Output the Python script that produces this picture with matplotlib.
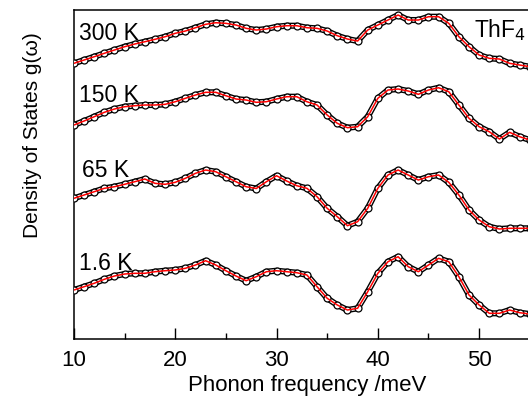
import matplotlib
matplotlib.use('Agg')
import matplotlib.pyplot as plt
from matplotlib.ticker import MultipleLocator

# ==========================================
# DATA (arbitrary offset units)
# ==========================================
energy = [10, 11, 12, 13, 14, 15, 16, 17, 18, 19, 20, 21, 22, 23, 24, 25, 26, 27,
          28, 29, 30, 31, 32, 33, 34, 35, 36, 37, 38, 39, 40, 41, 42, 43, 44, 45,
          46, 47, 48, 49, 50, 51, 52, 53, 54, 55]

dos_300K = [27.57, 27.90, 28.23, 28.57, 28.90, 29.23, 29.50, 29.73, 29.97, 30.23,
            30.57, 30.80, 31.13, 31.47, 31.63, 31.57, 31.40, 31.07, 30.90, 31.00,
            31.23, 31.33, 31.33, 31.13, 31.07, 30.80, 30.33, 30.00, 29.80, 30.90,
            31.40, 31.90, 32.40, 31.90, 31.90, 32.23, 32.23, 31.57, 30.23, 29.23,
            28.40, 28.07, 28.00, 27.57, 27.40, 27.23]

dos_150K = [21.40, 21.80, 22.23, 22.67, 23.00, 23.23, 23.33, 23.40, 23.40, 23.47,
            23.73, 24.07, 24.40, 24.67, 24.67, 24.33, 24.00, 23.90, 23.67, 23.73,
            24.00, 24.23, 24.23, 23.73, 23.40, 22.40, 21.57, 21.13, 21.23, 22.23,
            24.07, 24.90, 25.00, 24.80, 24.47, 24.90, 25.13, 24.73, 23.40, 22.07,
            21.23, 20.73, 20.00, 20.67, 20.23, 19.90]

dos_65K = [14.07, 14.40, 14.73, 15.07, 15.23, 15.47, 15.73, 16.00, 15.57, 15.47,
           15.67, 16.07, 16.57, 16.90, 16.73, 16.23, 15.73, 15.23, 15.05, 15.73,
           16.33, 15.80, 15.33, 15.07, 14.23, 13.07, 12.23, 11.33, 11.73, 13.07,
           15.07, 16.40, 16.90, 16.40, 15.90, 16.23, 16.40, 15.67, 14.40, 12.90,
           11.90, 11.23, 11.00, 11.07, 11.07, 11.07]

dos_1p6K = [4.90, 5.23, 5.57, 5.97, 6.30, 6.50, 6.57, 6.57, 6.73, 6.83,
            6.90, 7.07, 7.40, 7.83, 7.40, 6.83, 6.30, 5.83, 6.23, 6.73,
            6.83, 6.73, 6.63, 6.40, 5.23, 4.07, 3.40, 2.90, 3.07, 4.73,
            6.57, 7.73, 8.23, 7.23, 6.73, 7.40, 8.07, 7.73, 6.23, 4.40,
            3.40, 2.57, 2.57, 2.90, 2.63, 2.50]

temp_labels = ["300 K", "150 K", "65 K", "1.6 K"]
label_x = [10.5, 10.5, 10.8, 10.5]
label_y = [29.9, 23.7, 16.2, 6.9]

plt.rcParams['font.family'] = ['Liberation Sans', 'DejaVu Sans']

fig = plt.figure(figsize=(5.28, 4.01), dpi=100)
ax = fig.add_axes([0.140, 0.1546, 0.8826, 0.8204])

for dos in [dos_300K, dos_150K, dos_65K, dos_1p6K]:
    # bead-chain look of the dense measured points
    ax.plot(energy, dos, color='black', lw=4.4, solid_capstyle='round', zorder=2)
    ax.plot(energy, dos, color='white', lw=2.4, solid_capstyle='round', zorder=3)
    ax.plot(energy, dos, 'o', ms=5, mfc='white', mec='black', mew=0.9, zorder=4)
    ax.plot(energy, dos, color='red', lw=1.1, zorder=5)

for lab, lx, ly in zip(temp_labels, label_x, label_y):
    ax.text(lx, ly, lab, fontsize=16.5, ha='left', va='baseline', zorder=6)

ax.text(49.5, 30.2, 'ThF$_4$', fontsize=16.5, ha='left', va='baseline', zorder=6)

ax.set_xlim(10, 56)
ax.set_ylim(0, 32.9)
ax.xaxis.set_major_locator(MultipleLocator(10))
ax.xaxis.set_minor_locator(MultipleLocator(5))
ax.tick_params(axis='x', which='major', direction='in', length=8, width=1,
               labelsize=16, pad=8)
ax.tick_params(axis='x', which='minor', direction='in', length=4.3, width=1)
ax.set_yticks([])
for sp in ax.spines.values():
    sp.set_linewidth(1.1)

ax.set_xlabel('Phonon frequency /meV', fontsize=16, labelpad=3)
ax.set_ylabel('Density of States g(\u03c9)', fontsize=15)
ax.yaxis.set_label_coords(-0.068, 0.62)

plt.savefig('out.png', dpi=100)
